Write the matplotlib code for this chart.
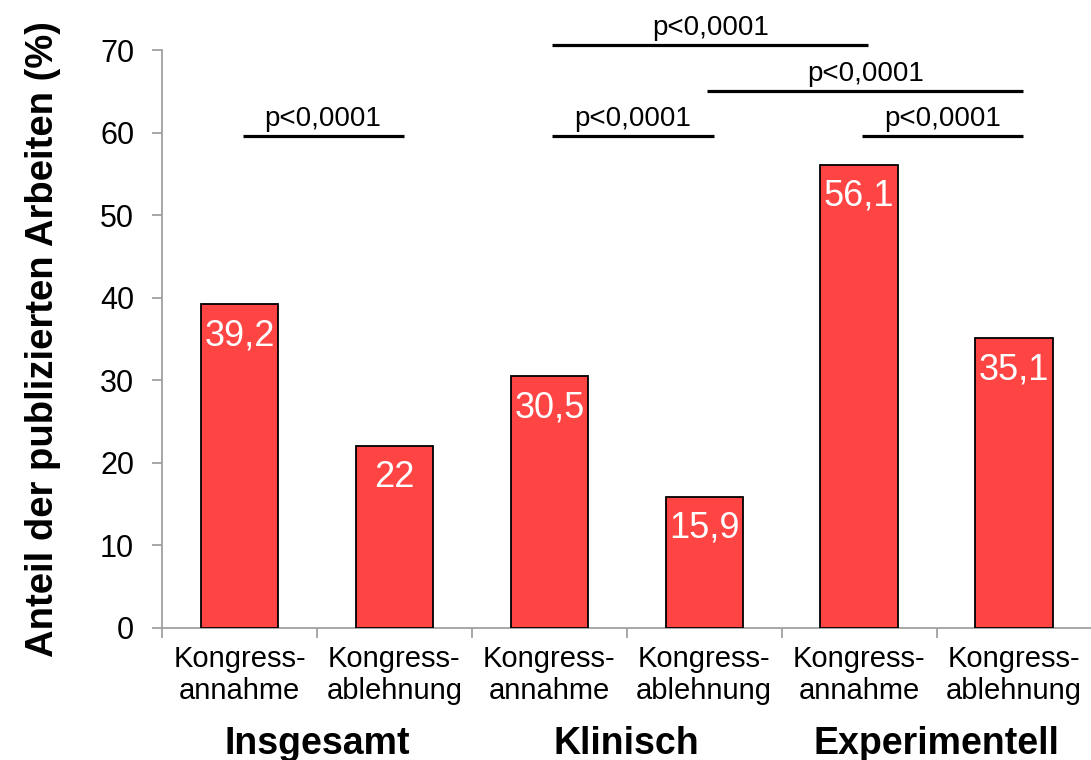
import matplotlib
matplotlib.use('Agg')
import matplotlib.pyplot as plt
import numpy as np

plt.rcParams['font.family'] = ['Liberation Sans', 'DejaVu Sans']

# data
bar_labels = ['Kongress-\nannahme', 'Kongress-\nablehnung'] * 3
values = [39.2, 22.0, 30.5, 15.9, 56.1, 35.1]
value_text = ['39,2', '22', '30,5', '15,9', '56,1', '35,1']
groups = ['Insgesamt', 'Klinisch', 'Experimentell']
# significance brackets: (x start, x end, height)
sig_pairs = [(0, 1, 59.6), (2, 3, 59.6), (4, 5, 59.6), (2, 4, 70.6), (3, 5, 65.0)]
sig_text = 'p<0,0001'

gray = '#a0a0a0'
fig = plt.figure(figsize=(10.91, 7.6), dpi=100)
ax = fig.add_axes([0.1485, 0.1737, 0.852, 0.7605])

x = np.arange(len(values))
ax.bar(x, values, width=0.5, color='#ff4444', edgecolor='black', linewidth=1.3, zorder=3)

for xi, v, t in zip(x, values, value_text):
    ax.annotate(t, (xi, v), xytext=(0, -10), textcoords='offset points',
                ha='center', va='top', color='white', fontsize=26)

for x0, x1, h in sig_pairs:
    ax.plot([x0 + 0.02, x1 + 0.06], [h, h], color='black', lw=2.3, clip_on=False,
            solid_capstyle='butt')
    ax.text((x0 + x1) / 2 + 0.04, h + 0.5, sig_text, ha='center', va='bottom', fontsize=20,
            clip_on=False)

ax.set_xlim(-0.5, 5.5)
ax.set_ylim(0, 70)
ax.set_yticks(range(0, 71, 10))
ax.set_xticks(x)
ax.set_xticklabels(bar_labels, fontsize=21, linespacing=1.2)
ax.set_xticks(np.arange(-0.5, 6, 1), minor=True)
ax.tick_params(axis='x', which='major', length=0, pad=12)
ax.tick_params(axis='x', which='minor', length=7, color=gray, width=1.3)
ax.tick_params(axis='y', labelsize=22, length=7, color=gray, width=1.3, pad=13)

for s in ['top', 'right']:
    ax.spines[s].set_visible(False)
for s in ['left', 'bottom']:
    ax.spines[s].set_color(gray)
    ax.spines[s].set_linewidth(1.3)

ax.set_ylabel('Anteil der publizierten Arbeiten (%)', fontsize=27.5, fontweight='bold',
              labelpad=28)

for i, g in enumerate(groups):
    ax.text(2 * i + 0.5, -0.2, g, transform=ax.get_xaxis_transform(), ha='center',
            va='center', fontsize=27, fontweight='bold')

fig.savefig('out.png', dpi=100)
